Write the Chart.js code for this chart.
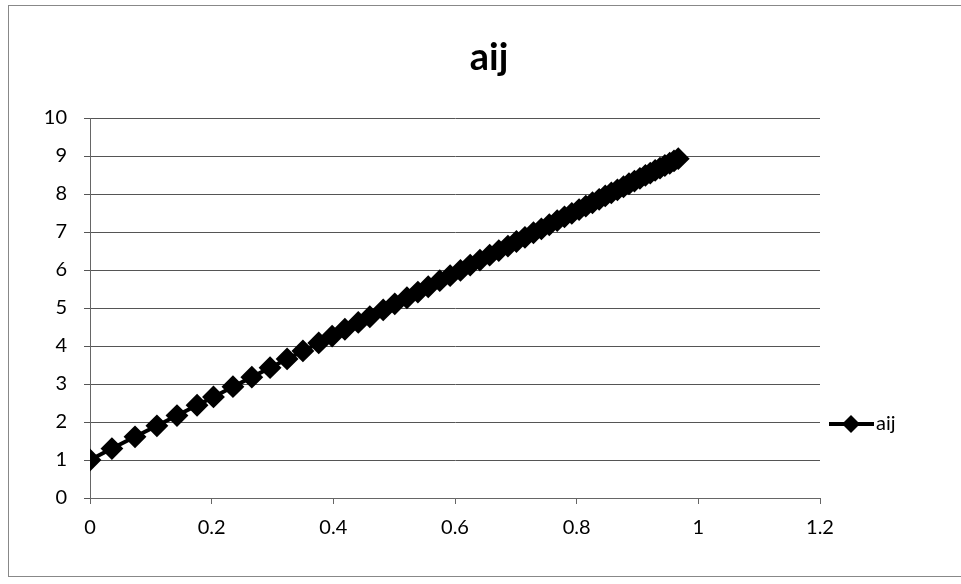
<!DOCTYPE html>
<html>
<head>
<meta charset="utf-8">
<script src="https://cdn.jsdelivr.net/npm/chart.js@4/dist/chart.umd.min.js"></script>
<style>
  html, body { margin: 0; padding: 0; background: #fff; }
  #wrap { position: relative; width: 961px; height: 584px; overflow: hidden; }
  #frame { position: absolute; left: 8px; top: 5px; width: 960px; height: 570px; border: 1px solid #888; }
  canvas { position: absolute; left: 0; top: 0; }
</style>
</head>
<body>
<div id="wrap">
  <div id="frame"></div>
  <canvas id="chart" width="961" height="584"></canvas>
</div>
<script>
const chartTitle = "aij";
const seriesName = "aij";

// x positions (spacing gets tighter to the right)
const xValues = [
  0, 0.036, 0.074, 0.110, 0.143, 0.176, 0.203, 0.235, 0.266, 0.296,
  0.324, 0.350, 0.376, 0.398, 0.419, 0.441, 0.460, 0.482, 0.501, 0.521,
  0.539, 0.556, 0.575, 0.592, 0.609, 0.625, 0.641, 0.657, 0.672, 0.687,
  0.701, 0.715, 0.729, 0.742, 0.755, 0.768, 0.780, 0.792, 0.804, 0.815,
  0.826, 0.837, 0.847, 0.857, 0.867, 0.877, 0.886, 0.895, 0.904, 0.913,
  0.921, 0.929, 0.937, 0.945, 0.953, 0.960, 0.967
];
const yValues = [
  1.00, 1.30, 1.61, 1.90, 2.17, 2.44, 2.66, 2.93, 3.18, 3.43,
  3.66, 3.87, 4.08, 4.26, 4.44, 4.62, 4.77, 4.95, 5.11, 5.27,
  5.42, 5.56, 5.72, 5.85, 5.99, 6.13, 6.26, 6.39, 6.51, 6.63,
  6.75, 6.86, 6.98, 7.08, 7.19, 7.30, 7.40, 7.49, 7.59, 7.68,
  7.77, 7.86, 7.95, 8.03, 8.11, 8.19, 8.27, 8.34, 8.41, 8.49,
  8.55, 8.62, 8.68, 8.75, 8.81, 8.87, 8.93
];

const xTicks = [0, 0.2, 0.4, 0.6, 0.8, 1, 1.2];
const yTicks = [0, 1, 2, 3, 4, 5, 6, 7, 8, 9, 10];

const FONT = "Lato, 'Open Sans', sans-serif";

// title and legend drawn where Excel put them
const overlay = {
  id: "overlay",
  afterDraw(c) {
    const g = c.ctx;
    g.save();
    g.fillStyle = "#000";
    g.font = "bold 38px " + FONT;
    g.textAlign = "center";
    g.textBaseline = "middle";
    g.fillText(chartTitle, 489, 58);

    const ly = 424;
    g.strokeStyle = "#000";
    g.lineWidth = 4;
    g.beginPath();
    g.moveTo(829, ly);
    g.lineTo(874, ly);
    g.stroke();
    g.beginPath();
    g.moveTo(851, ly - 9);
    g.lineTo(860, ly);
    g.lineTo(851, ly + 9);
    g.lineTo(842, ly);
    g.closePath();
    g.fill();

    g.font = "20px " + FONT;
    g.textAlign = "left";
    g.fillText(seriesName, 876, ly);
    g.restore();
  }
};

const ctx = document.getElementById("chart").getContext("2d");
new Chart(ctx, {
  type: "scatter",
  data: {
    datasets: [{
      label: seriesName,
      data: xValues.map((x, i) => ({ x: x, y: yValues[i] })),
      showLine: true,
      borderColor: "#000",
      borderWidth: 4,
      backgroundColor: "#000",
      pointStyle: "rectRot",
      pointRadius: 10,
      pointBorderWidth: 2,
      pointBorderColor: "#000"
    }]
  },
  options: {
    responsive: false,
    animation: false,
    layout: { padding: { left: 0, right: 141, top: 118, bottom: 20 } },
    plugins: {
      legend: { display: false },
      title: { display: false },
      tooltip: { enabled: false }
    },
    scales: {
      x: {
        type: "linear",
        min: 0,
        max: 1.2,
        afterBuildTicks: s => { s.ticks = xTicks.map(v => ({ value: v })); },
        afterFit: s => { s.height = 66; },
        ticks: {
          color: "#000",
          font: { family: FONT, size: 20 },
          padding: 12,
          maxRotation: 0,
          callback: v => String(+v.toFixed(1))
        },
        grid: { drawOnChartArea: false, drawTicks: true, tickLength: 6, color: "#666" },
        border: { color: "#666", width: 1 }
      },
      y: {
        min: 0,
        max: 10,
        afterBuildTicks: s => { s.ticks = yTicks.map(v => ({ value: v })); },
        afterFit: s => { s.width = 90; },
        ticks: {
          color: "#000",
          font: { family: FONT, size: 20 },
          padding: 17
        },
        grid: { color: "#555", lineWidth: 1, drawTicks: true, tickLength: 6 },
        border: { color: "#666", width: 1 }
      }
    }
  },
  plugins: [overlay]
});
</script>
</body>
</html>
